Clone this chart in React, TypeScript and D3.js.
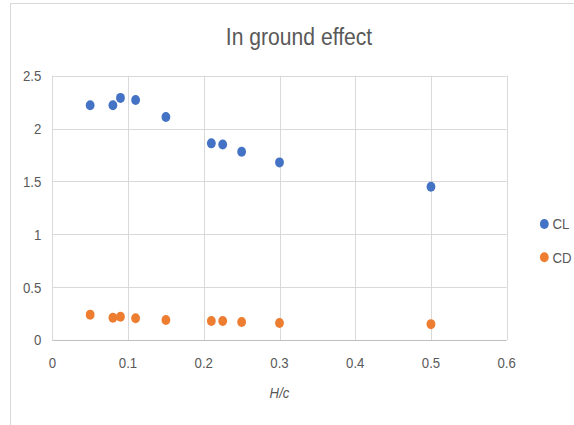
import React, { useRef, useEffect } from "react";
import * as d3 from "d3";

const hc = [0.05, 0.08, 0.09, 0.11, 0.15, 0.21, 0.225, 0.25, 0.3, 0.5];
const clValues = [2.22, 2.22, 2.29, 2.27, 2.11, 1.86, 1.85, 1.78, 1.68, 1.45];
const cdValues = [0.24, 0.21, 0.22, 0.205, 0.19, 0.18, 0.18, 0.17, 0.16, 0.15];
const seriesNames = ["CL", "CD"];
const seriesColors = ["#4472C4", "#ED7D31"];
const xTicks = [0, 0.1, 0.2, 0.3, 0.4, 0.5, 0.6];
const yTicks = [0, 0.5, 1, 1.5, 2, 2.5];
const title = "In ground effect";
const xTitle = "H/c";

const W = 574;
const H = 425;
const FONT = "'Liberation Sans', Arial, sans-serif";
const SQUEEZE = 0.88; // Calibri-ish narrow look

export default function App() {
    const ref = useRef<SVGSVGElement | null>(null);

    useEffect(() => {
        if (!ref.current) return;
        const svg = d3.select(ref.current);
        svg.selectAll("*").remove();

        const left = 52.3, right = 506.7, top = 75.7, bottom = 340;
        const x = d3.scaleLinear().domain([0, 0.6]).range([left, right]);
        const y = d3.scaleLinear().domain([0, 2.5]).range([bottom, top]);

        const at = (px: number, py: number) => `translate(${px},${py}) scale(${SQUEEZE},1)`;

        // chart frame (cropped at right/bottom)
        svg.append("rect")
            .attr("x", 10.5).attr("y", 3.5)
            .attr("width", 700).attr("height", 600)
            .attr("fill", "#fff").attr("stroke", "#D9D9D9");

        svg.append("text")
            .attr("transform", at(299, 45))
            .attr("text-anchor", "middle")
            .attr("font-family", FONT).attr("font-size", 24)
            .attr("fill", "#595959")
            .text(title);

        const grid = svg.append("g");
        grid.selectAll(".gy").data(yTicks).enter().append("line")
            .attr("x1", left).attr("x2", right)
            .attr("y1", (d) => Math.round(y(d)) + 0.5).attr("y2", (d) => Math.round(y(d)) + 0.5)
            .attr("stroke", (d) => (d === 0 ? "#BFBFBF" : "#D9D9D9"));
        grid.selectAll(".gx").data(xTicks).enter().append("line")
            .attr("y1", top).attr("y2", bottom)
            .attr("x1", (d) => Math.round(x(d)) + 0.5).attr("x2", (d) => Math.round(x(d)) + 0.5)
            .attr("stroke", "#D9D9D9");

        svg.append("g").selectAll("text").data(yTicks).enter().append("text")
            .attr("transform", (d) => at(left - 11, y(d)))
            .attr("dy", "0.36em")
            .attr("text-anchor", "end")
            .attr("font-family", FONT).attr("font-size", 15)
            .attr("fill", "#595959")
            .text((d) => d3.format("")(d));

        svg.append("g").selectAll("text").data(xTicks).enter().append("text")
            .attr("transform", (d) => at(x(d), 368))
            .attr("text-anchor", "middle")
            .attr("font-family", FONT).attr("font-size", 15)
            .attr("fill", "#595959")
            .text((d) => d3.format("")(d));

        svg.append("text")
            .attr("transform", at((left + right) / 2, 398))
            .attr("text-anchor", "middle")
            .attr("font-family", FONT).attr("font-size", 15)
            .attr("font-style", "italic")
            .attr("fill", "#595959")
            .text(xTitle);

        const series = [clValues, cdValues];
        series.forEach((vals, si) => {
            svg.append("g").selectAll("ellipse").data(vals).enter().append("ellipse")
                .attr("cx", (_, i) => x(hc[i]))
                .attr("cy", (d) => y(d))
                .attr("rx", 4.4).attr("ry", 5)
                .attr("fill", seriesColors[si]);
        });

        const legend = svg.append("g");
        seriesNames.forEach((name, i) => {
            const ly = 224 + i * 33.3;
            legend.append("ellipse")
                .attr("cx", 544.3).attr("cy", ly)
                .attr("rx", 4.4).attr("ry", 5)
                .attr("fill", seriesColors[i]);
            legend.append("text")
                .attr("transform", at(552.5, ly))
                .attr("dy", "0.36em")
                .attr("font-family", FONT).attr("font-size", 15)
                .attr("fill", "#595959")
                .text(name);
        });
    }, []);

    return (
        <div style={{ position: "absolute", left: 0, top: 0 }}>
            <svg ref={ref} width={W} height={H} style={{ display: "block", background: "#fff" }} />
        </div>
    );
}
